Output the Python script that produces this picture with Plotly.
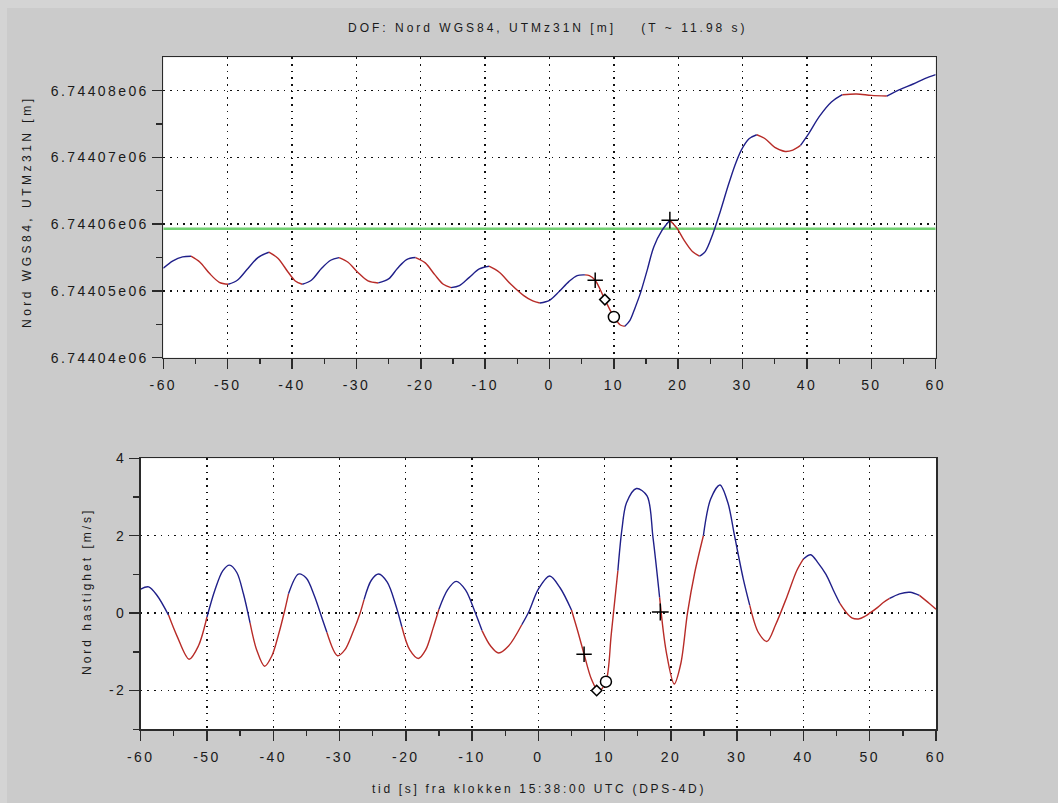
import plotly.graph_objects as go

# ---------------------------------------------------------------------------
# Data: north position (UTM zone 31N, WGS84) and north velocity around the
# reference time 15:38:00 UTC, DPS-4D.
# ---------------------------------------------------------------------------
north_t = [-60.0, -58.5, -57.0, -55.7, -54.3, -52.8, -51.3, -49.9, -48.5, -47.0,
           -45.3, -43.6, -42.2, -40.6, -39.5, -38.4, -37.0, -35.4, -34.0, -32.7,
           -31.3, -29.8, -28.2, -26.6, -25.0, -23.6, -22.2, -20.8, -19.3, -17.8,
           -16.5, -15.3, -14.0, -12.5, -10.9, -9.4, -7.8, -6.0, -4.0, -2.6,
           -1.5, 0.0, 1.5, 3.0, 4.3, 5.5, 6.2, 7.1, 8.6, 10.0,
           11.0, 11.7, 12.5, 13.3, 14.1, 15.2, 16.2, 17.5, 18.7, 19.8,
           20.9, 22.2, 23.3, 24.2, 25.4, 26.5, 27.7, 28.8, 29.8, 31.0,
           32.2, 33.5, 35.0, 36.6, 37.8, 39.0, 40.3, 41.9, 43.8, 45.5,
           47.7, 50.0, 52.4, 54.5, 56.5, 58.3, 60.0]
north_m = [6744053.4, 6744054.5, 6744055.1, 6744055.2, 6744054.3, 6744052.6, 6744051.3, 6744051.0, 6744051.6, 6744053.2,
           6744055.0, 6744055.8, 6744054.9, 6744052.8, 6744051.5, 6744051.0, 6744051.6, 6744053.4, 6744054.6, 6744055.0,
           6744054.3, 6744052.8, 6744051.5, 6744051.2, 6744051.8, 6744053.4, 6744054.7, 6744055.0, 6744054.2, 6744052.4,
           6744051.0, 6744050.5, 6744050.8, 6744052.0, 6744053.3, 6744053.7, 6744052.8, 6744051.0, 6744049.3, 6744048.5,
           6744048.2, 6744048.6, 6744049.9, 6744051.4, 6744052.3, 6744052.4, 6744052.3, 6744051.6, 6744048.7, 6744046.1,
           6744044.9, 6744044.7, 6744045.6, 6744047.5, 6744049.6, 6744053.2, 6744056.6, 6744059.1, 6744060.6, 6744059.4,
           6744057.6, 6744055.9, 6744055.2, 6744055.9, 6744058.6, 6744061.8, 6744065.6, 6744068.8, 6744071.1, 6744072.8,
           6744073.4, 6744072.8, 6744071.5, 6744070.9, 6744071.1, 6744071.8, 6744073.6, 6744076.1, 6744078.3, 6744079.4,
           6744079.5, 6744079.3, 6744079.2, 6744080.2, 6744081.0, 6744081.8, 6744082.4]
# times where the position trace switches between rising and falling
north_breaks = [-55.7, -49.9, -43.6, -38.4, -32.7, -26.6, -20.8, -15.3, -9.4, -1.5,
                5.5, 11.7, 18.7, 23.3, 32.2, 39.0, 45.5, 52.4]

vel_t = [-60.0, -58.8, -57.5, -55.8, -54.5, -52.7, -51.3, -50.0, -48.8, -47.6,
         -46.6, -45.5, -44.5, -43.5, -42.5, -41.3, -40.2, -39.2, -38.3, -37.7,
         -36.2, -35.0, -33.8, -32.6, -31.9, -30.3, -29.2, -28.0, -26.9, -26.3,
         -25.2, -24.1, -22.8, -21.5, -20.6, -19.4, -18.1, -17.0, -15.9, -15.0,
         -13.7, -12.4, -11.0, -9.6, -8.5, -7.2, -6.0, -4.5, -2.5, -1.4,
         0.0, 1.7, 3.3, 5.0, 6.0, 6.9, 8.0, 9.1, 10.2, 11.0,
         12.0, 12.6, 13.3, 14.8, 16.4, 17.3, 18.3, 19.3, 20.5,
         21.5, 22.5, 23.6, 24.9, 26.0, 27.4, 28.6, 29.6, 30.9, 31.9,
         33.2, 34.5, 35.8, 37.5, 39.0, 40.0, 41.1, 42.2, 43.4, 44.5,
         45.5, 46.4, 47.3, 48.3, 49.3, 50.0, 51.2, 52.0, 53.0, 54.5,
         56.1, 57.5, 59.0, 60.0]
vel_ms = [0.62, 0.68, 0.45, -0.05, -0.60, -1.19, -0.85, -0.10, 0.60, 1.10,
          1.24, 1.05, 0.50, -0.25, -0.95, -1.37, -1.10, -0.55, 0.05, 0.50,
          1.01, 0.90, 0.45, -0.15, -0.50, -1.10, -0.95, -0.50, 0.00, 0.35,
          0.85, 1.01, 0.80, 0.20, -0.35, -0.95, -1.17, -0.95, -0.40, 0.10,
          0.60, 0.82, 0.60, 0.05, -0.45, -0.85, -1.03, -0.85, -0.30, 0.05,
          0.62, 0.96, 0.65, 0.08, -0.50, -1.06, -1.70, -2.02, -1.77, -0.55,
          1.10, 2.15, 2.85, 3.22, 3.03, 1.95, 0.40, -1.00, -1.83,
          -1.30, 0.00, 1.05, 2.00, 2.95, 3.31, 2.85, 2.00, 0.90, 0.20,
          -0.50, -0.73, -0.30, 0.42, 1.10, 1.40, 1.51, 1.30, 1.00, 0.60,
          0.25, 0.03, -0.12, -0.15, -0.08, 0.00, 0.15, 0.27, 0.38, 0.50,
          0.54, 0.46, 0.25, 0.10]
vel_breaks = [-55.8, -50.0, -43.5, -37.7, -31.9, -26.3, -20.6, -15.0, -8.5, -2.5,
              5.0, 12.0, 18.3, 24.9, 31.9, 40.0, 45.5, 53.0, 57.5]

ref_level_m = 6744059.3          # green reference level

event_t_north = [7.1, 8.6, 10.0, 18.7]
event_north = [6744051.6, 6744048.7, 6744046.1, 6744060.6]
event_t_vel = [6.9, 8.8, 10.2, 18.4]
event_vel = [-1.06, -2.00, -1.77, 0.03]
event_symbols = ["cross-thin", "diamond", "circle", "cross-thin"]
event_fill = ["black", "white", "white", "black"]
event_sizes = [11, 8, 11, 12]

x_tickvals = [-60, -50, -40, -30, -20, -10, 0, 10, 20, 30, 40, 50, 60]
north_tickvals = [6744040, 6744050, 6744060, 6744070, 6744080]
north_ticktext = ["6.74404e06", "6.74405e06", "6.74406e06", "6.74407e06", "6.74408e06"]
vel_tickvals = [-2, 0, 2, 4]
vel_ticktext = ["-2", "0", "2", "4"]

# ---------------------------------------------------------------------------
W, H = 1058, 803
RISING = "#20208a"
FALLING = "#b82c28"
INK = "#1a1a1a"
AXIS = "#2a2a2a"
FONT = "Liberation Sans, Arial, sans-serif"


def spaced(s, px=2.4):
    return f'<span style="letter-spacing:{px}px">{s}</span>'


def coloured_runs(t, v, breaks):
    """Split a curve into runs of constant colour; colour flips at each break."""
    def colour(i):
        mid = 0.5 * (t[i] + t[i + 1])
        n = sum(1 for b in breaks if b <= mid)
        return RISING if n % 2 == 0 else FALLING

    runs, start, cur = [], 0, colour(0)
    for i in range(1, len(t) - 1):
        c = colour(i)
        if c != cur:
            runs.append((t[start:i + 1], v[start:i + 1], cur))
            start, cur = i, c
    runs.append((t[start:], v[start:], cur))
    return runs


def event_markers(tx, ty, xa, ya):
    return go.Scatter(x=tx, y=ty, mode="markers",
                      marker=dict(symbol=event_symbols, size=event_sizes, color=event_fill,
                                  opacity=1, line=dict(color="black", width=1.5)),
                      xaxis=xa, yaxis=ya)


fig = go.Figure()

# --- upper panel: position ---
fig.add_trace(go.Scatter(x=[x_tickvals[0], x_tickvals[-1]], y=[ref_level_m, ref_level_m],
                         mode="lines", line=dict(color="#72d072", width=2.5),
                         xaxis="x", yaxis="y", hoverinfo="skip"))
for tt, vv, col in coloured_runs(north_t, north_m, north_breaks):
    fig.add_trace(go.Scatter(x=tt, y=vv, mode="lines",
                             line=dict(color=col, width=1.4, shape="spline", smoothing=0.9),
                             xaxis="x", yaxis="y"))
fig.add_trace(event_markers(event_t_north, event_north, "x", "y"))

# --- lower panel: velocity ---
for tt, vv, col in coloured_runs(vel_t, vel_ms, vel_breaks):
    fig.add_trace(go.Scatter(x=tt, y=vv, mode="lines",
                             line=dict(color=col, width=1.4, shape="spline", smoothing=0.9),
                             xaxis="x2", yaxis="y2"))
fig.add_trace(event_markers(event_t_vel, event_vel, "x2", "y2"))

tickfont = dict(family=FONT, size=14, color=INK)
grid = dict(showgrid=True, gridcolor="#111111", gridwidth=1.4, griddash="1.5px,5.2px")
frame = dict(showline=True, linecolor=AXIS, linewidth=1.7, mirror=True,
             ticks="outside", ticklen=10, tickwidth=1.5, tickcolor=AXIS,
             zeroline=False, automargin=False, fixedrange=True)

x_minor = [x + 5 for x in x_tickvals[:-1]]
north_minor = [v + 5 for v in north_tickvals[:-1]]
vel_minor = [-3, -1, 1, 3]


def xaxis(domain, anchor):
    return dict(domain=domain, anchor=anchor, range=[x_tickvals[0], x_tickvals[-1]],
                tickmode="array", tickvals=x_tickvals,
                ticktext=[spaced(str(v)) for v in x_tickvals],
                tickfont=tickfont, ticklabelstandoff=4,
                minor=dict(tickmode="array", tickvals=x_minor, ticks="outside",
                           ticklen=5, tickwidth=1.3, tickcolor=AXIS, showgrid=False),
                **grid, **frame)


def yminor(vals):
    return dict(tickmode="array", tickvals=vals, ticks="outside",
                ticklen=6, tickwidth=1.3, tickcolor=AXIS, showgrid=False)


fig.update_layout(
    width=W, height=H, autosize=False,
    margin=dict(l=0, r=0, t=0, b=0),
    paper_bgcolor="#cbcbcb", plot_bgcolor="white",
    showlegend=False,
    xaxis=xaxis([163.3 / W, 935.7 / W], "y"),
    yaxis=dict(domain=[1 - 357.7 / H, 1 - 57.3 / H], anchor="x",
               range=[6744040, 6744085],
               tickmode="array", tickvals=north_tickvals,
               ticktext=[spaced(s) for s in north_ticktext],
               tickfont=tickfont, ticklabelstandoff=0,
               minor=yminor(north_minor), **grid, **frame),
    xaxis2=xaxis([140.7 / W, 936.0 / W], "y2"),
    yaxis2=dict(domain=[1 - 729.3 / H, 1 - 458.3 / H], anchor="x2",
                range=[-3, 4],
                tickmode="array", tickvals=vel_tickvals,
                ticktext=[spaced(s) for s in vel_ticktext],
                tickfont=tickfont, ticklabelstandoff=0,
                minor=yminor(vel_minor), **grid, **frame),
)

# slightly lighter window edge along the top and left
for x0, y0, x1, y1 in [(0, 0, W, 8), (0, 0, 7, H)]:
    fig.add_shape(type="rect", xref="paper", yref="paper",
                  x0=x0 / W, x1=x1 / W, y0=1 - y1 / H, y1=1 - y0 / H,
                  fillcolor="#d4d4d4", line=dict(width=0), layer="below")

labelfont = dict(family=FONT, size=12, color=INK)
fig.add_annotation(text=spaced("DOF: Nord WGS84, UTMz31N [m]\u00a0\u00a0\u00a0\u00a0(T ~ 11.98 s)", 3),
                   xref="paper", yref="paper", x=548 / W, y=1 - 27.5 / H,
                   showarrow=False, font=labelfont, xanchor="center", yanchor="middle")
fig.add_annotation(text=spaced("Nord WGS84, UTMz31N [m]", 3.5),
                   xref="paper", yref="paper", x=27 / W, y=1 - 212 / H, textangle=-90,
                   showarrow=False, font=labelfont, xanchor="center", yanchor="middle")
fig.add_annotation(text=spaced("Nord hastighet [m/s]", 3),
                   xref="paper", yref="paper", x=87 / W, y=1 - 592 / H, textangle=-90,
                   showarrow=False, font=labelfont, xanchor="center", yanchor="middle")
fig.add_annotation(text=spaced("tid [s] fra klokken 15:38:00 UTC (DPS-4D)", 2.7),
                   xref="paper", yref="paper", x=538.5 / W, y=1 - 789 / H,
                   showarrow=False, font=labelfont, xanchor="center", yanchor="middle")

fig.write_html("out.html", config=dict(displayModeBar=False, staticPlot=True))
